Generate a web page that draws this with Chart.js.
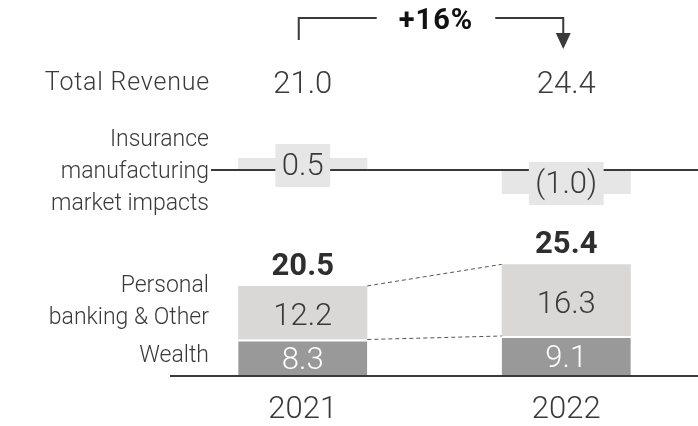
<!DOCTYPE html>
<html>
<head>
<meta charset="utf-8">
<script src="https://cdn.jsdelivr.net/npm/chart.js@4.4.1/dist/chart.umd.min.js"></script>
<style>
  html, body { margin: 0; padding: 0; background: #fff; }
  #wrap { width: 698px; height: 426px; }
</style>
</head>
<body>
<div id="wrap"><canvas id="chart" width="698" height="426"></canvas></div>
<script>
// data
const years = ["2021", "2022"];
const wealth = [8.3, 9.1];
const personalBanking = [12.2, 16.3];
const insuranceImpacts = [0.5, -1.0];
const totalRevenue = [21.0, 24.4];
const growthLabel = "+16%";

const rowLabels = {
  total: ["Total Revenue"],
  insurance: ["Insurance", "manufacturing", "market impacts"],
  personal: ["Personal", "banking & Other"],
  wealth: ["Wealth"]
};

const FONT = "Roboto, 'Liberation Sans', sans-serif";
const TEXT = "#3a3a3a";

function fmt(v) {
  return v < 0 ? "(" + Math.abs(v).toFixed(1) + ")" : v.toFixed(1);
}

const overlay = {
  id: "overlay",
  afterDatasetsDraw(chart) {
    const ctx = chart.ctx;
    const y = chart.scales.y;
    const y2 = chart.scales.y2;
    const wealthMeta = chart.getDatasetMeta(0);
    const pbMeta = chart.getDatasetMeta(1);
    const insMeta = chart.getDatasetMeta(2);
    ctx.save();

    // axis line
    const base = y.getPixelForValue(0);
    ctx.strokeStyle = "#3a3a3a";
    ctx.lineWidth = 2;
    ctx.beginPath();
    ctx.moveTo(170, base);
    ctx.lineTo(698, base);
    ctx.stroke();

    // dashed connectors
    ctx.lineWidth = 1;
    ctx.strokeStyle = "#555";
    ctx.setLineDash([4, 3]);
    [wealthMeta, pbMeta].forEach(meta => {
      const a = meta.data[0], b = meta.data[1];
      ctx.beginPath();
      ctx.moveTo(a.x + a.width / 2, a.y);
      ctx.lineTo(b.x - b.width / 2, b.y);
      ctx.stroke();
    });
    ctx.setLineDash([]);

    // insurance baseline
    const zero2 = y2.getPixelForValue(0);
    ctx.strokeStyle = "#3a3a3a";
    ctx.lineWidth = 2;
    ctx.beginPath();
    ctx.moveTo(211, zero2);
    ctx.lineTo(698, zero2);
    ctx.stroke();

    ctx.textAlign = "center";
    ctx.textBaseline = "middle";

    // insurance labels with box
    ctx.font = "300 31px " + FONT;
    insMeta.data.forEach((bar, i) => {
      const txt = fmt(insuranceImpacts[i]);
      const w = ctx.measureText(txt).width + 13;
      const cy = (bar.y + bar.base) / 2 + 1;
      ctx.fillStyle = "#e6e6e6";
      ctx.fillRect(bar.x - w / 2, cy - 21, w, 43);
      ctx.fillStyle = TEXT;
      ctx.fillText(txt, bar.x, cy + 2);
    });

    // values inside bars
    wealthMeta.data.forEach((bar, i) => {
      ctx.fillStyle = "#ffffff";
      ctx.fillText(fmt(wealth[i]), bar.x, (bar.y + bar.base) / 2 + 3);
    });
    pbMeta.data.forEach((bar, i) => {
      ctx.fillStyle = TEXT;
      ctx.fillText(fmt(personalBanking[i]), bar.x, (bar.y + bar.base) / 2 + 5);
    });

    // totals above bars
    ctx.font = "bold 31px " + FONT;
    ctx.fillStyle = "#2e2e2e";
    pbMeta.data.forEach((bar, i) => {
      ctx.fillText((wealth[i] + personalBanking[i]).toFixed(1), bar.x, bar.y - 19);
    });

    // years and total revenue row
    ctx.font = "300 31px " + FONT;
    ctx.fillStyle = TEXT;
    pbMeta.data.forEach((bar, i) => {
      ctx.fillText(years[i], bar.x, 410);
      ctx.fillText(fmt(totalRevenue[i]), bar.x, 85);
    });

    // growth bracket
    const x1 = pbMeta.data[0].x - 4;
    const x2 = pbMeta.data[1].x - 3;
    const mid = (x1 + x2) / 2 + 5;
    ctx.font = "bold 29px " + FONT;
    ctx.letterSpacing = "1px";
    ctx.fillStyle = "#111";
    ctx.fillText(growthLabel, mid, 22);
    const half = ctx.measureText(growthLabel).width / 2 + 22;
    ctx.letterSpacing = "0px";
    ctx.strokeStyle = "#3a3a3a";
    ctx.lineWidth = 2;
    ctx.beginPath();
    ctx.moveTo(x1, 40);
    ctx.lineTo(x1, 18);
    ctx.lineTo(mid - half, 18);
    ctx.moveTo(mid + half, 18);
    ctx.lineTo(x2, 18);
    ctx.lineTo(x2, 34);
    ctx.stroke();
    ctx.fillStyle = "#3a3a3a";
    ctx.beginPath();
    ctx.moveTo(x2 - 7.5, 33);
    ctx.lineTo(x2 + 7.5, 33);
    ctx.lineTo(x2, 49);
    ctx.closePath();
    ctx.fill();

    // row labels on the left
    ctx.textAlign = "right";
    ctx.font = "300 25px " + FONT;
    ctx.fillStyle = TEXT;
    ctx.letterSpacing = "0.8px";
    ctx.fillText(rowLabels.total[0], 210, 84);
    ctx.letterSpacing = "0px";
    ctx.font = "300 23px " + FONT;
    rowLabels.insurance.forEach((t, i) => ctx.fillText(t, 209, 140 + i * 32));
    rowLabels.personal.forEach((t, i) => ctx.fillText(t, 209, 286 + i * 32));
    ctx.fillText(rowLabels.wealth[0], 209, 356);

    ctx.restore();
  }
};

new Chart(document.getElementById("chart"), {
  type: "bar",
  data: {
    labels: years,
    datasets: [
      {
        label: "Wealth",
        data: wealth,
        backgroundColor: "#999999",
        borderColor: "#ffffff",
        borderWidth: { top: 2, right: 0, bottom: 0, left: 0 },
        borderSkipped: false,
        yAxisID: "y"
      },
      {
        label: "Personal banking & Other",
        data: personalBanking,
        backgroundColor: "#d9d8d6",
        borderWidth: 0,
        yAxisID: "y"
      },
      {
        label: "Insurance manufacturing market impacts",
        data: insuranceImpacts,
        backgroundColor: "#e6e6e6",
        borderWidth: 0,
        grouped: false,
        yAxisID: "y2"
      }
    ]
  },
  options: {
    responsive: false,
    animation: false,
    layout: { padding: { left: 171, right: 0, top: 20, bottom: 50 } },
    datasets: { bar: { barPercentage: 0.49, categoryPercentage: 1 } },
    plugins: { legend: { display: false }, tooltip: { enabled: false } },
    scales: {
      x: { display: false, stacked: true },
      y: { display: false, stacked: true, min: 0, max: 81 },
      y2: { display: false, stacked: false, min: -8.58, max: 6.25 }
    }
  },
  plugins: [overlay]
});
</script>
</body>
</html>
